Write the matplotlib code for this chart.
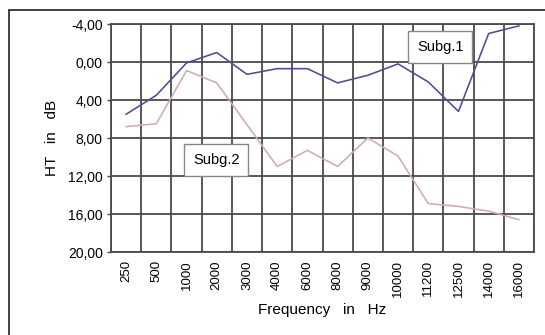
import numpy as np
import matplotlib
matplotlib.use('Agg')
import matplotlib.pyplot as plt
from matplotlib.patches import Rectangle
from matplotlib.ticker import FixedLocator, FuncFormatter

freqs = ['250', '500', '1000', '2000', '3000', '4000', '6000', '8000',
         '9000', '10000', '11200', '12500', '14000', '16000']
subg1 = [5.5, 3.5, 0.1, -1.0, 1.3, 0.7, 0.7, 2.2, 1.4, 0.2, 2.1, 5.2, -3.0, -3.8]
subg2 = [6.8, 6.5, 0.9, 2.2, 6.6, 11.0, 9.3, 11.0, 8.0, 9.9, 14.9, 15.2, 15.7, 16.6]

plt.rcParams['font.family'] = ['Liberation Sans', 'DejaVu Sans']

fig = plt.figure(figsize=(5.45, 3.35), dpi=100)
ax = fig.add_axes([111 / 545, 83 / 335, 423 / 545, 228 / 335])

# outer frame (cut by the image on right and bottom)
fig.patches.append(Rectangle((9 / 545, -0.05), 1.2, 1.05 - 10 / 335,
                             transform=fig.transFigure, fill=False,
                             edgecolor='#333333', linewidth=1.3))

x = np.arange(len(freqs))
ax.plot(x, subg1, color='#4d4d96', linewidth=1.15)
ax.plot(x, subg2, color='#d0a8c0', linewidth=1.15)

ax.set_xlim(-0.5, len(freqs) - 0.5)
ax.set_ylim(20, -4)
ax.set_yticks([-4, 0, 4, 8, 12, 16, 20])
ax.yaxis.set_major_formatter(FuncFormatter(lambda v, p: ('%.2f' % v).replace('.', ',')))
ax.set_xticks(x)
ax.set_xticklabels(freqs, rotation=90, fontsize=9.5)
ax.xaxis.set_minor_locator(FixedLocator(np.arange(-0.5, len(freqs), 1)))
ax.tick_params(axis='x', which='both', length=0, pad=6)
ax.tick_params(axis='y', length=3, width=1, color='#444444', labelsize=10, pad=3)

ax.grid(True, axis='y', which='major', color='#4a4a4a', linewidth=1.3)
ax.grid(True, axis='x', which='minor', color='#4a4a4a', linewidth=1.3)
ax.set_axisbelow(True)
for s in ax.spines.values():
    s.set_color('#4a4a4a')
    s.set_linewidth(1.3)

ax.set_ylabel('HT   in   dB', fontsize=11, labelpad=6)
ax.set_xlabel('Frequency   in   Hz', fontsize=11, labelpad=4)

box = dict(boxstyle='square,pad=0.6', facecolor='white', edgecolor='#888888', linewidth=1)
ax.text(10.4, -1.6, 'Subg.1', fontsize=10.5, ha='center', va='center', bbox=box)
ax.text(2.98, 10.3, 'Subg.2', fontsize=10.5, ha='center', va='center', bbox=box)

fig.savefig('out.png', dpi=100)
